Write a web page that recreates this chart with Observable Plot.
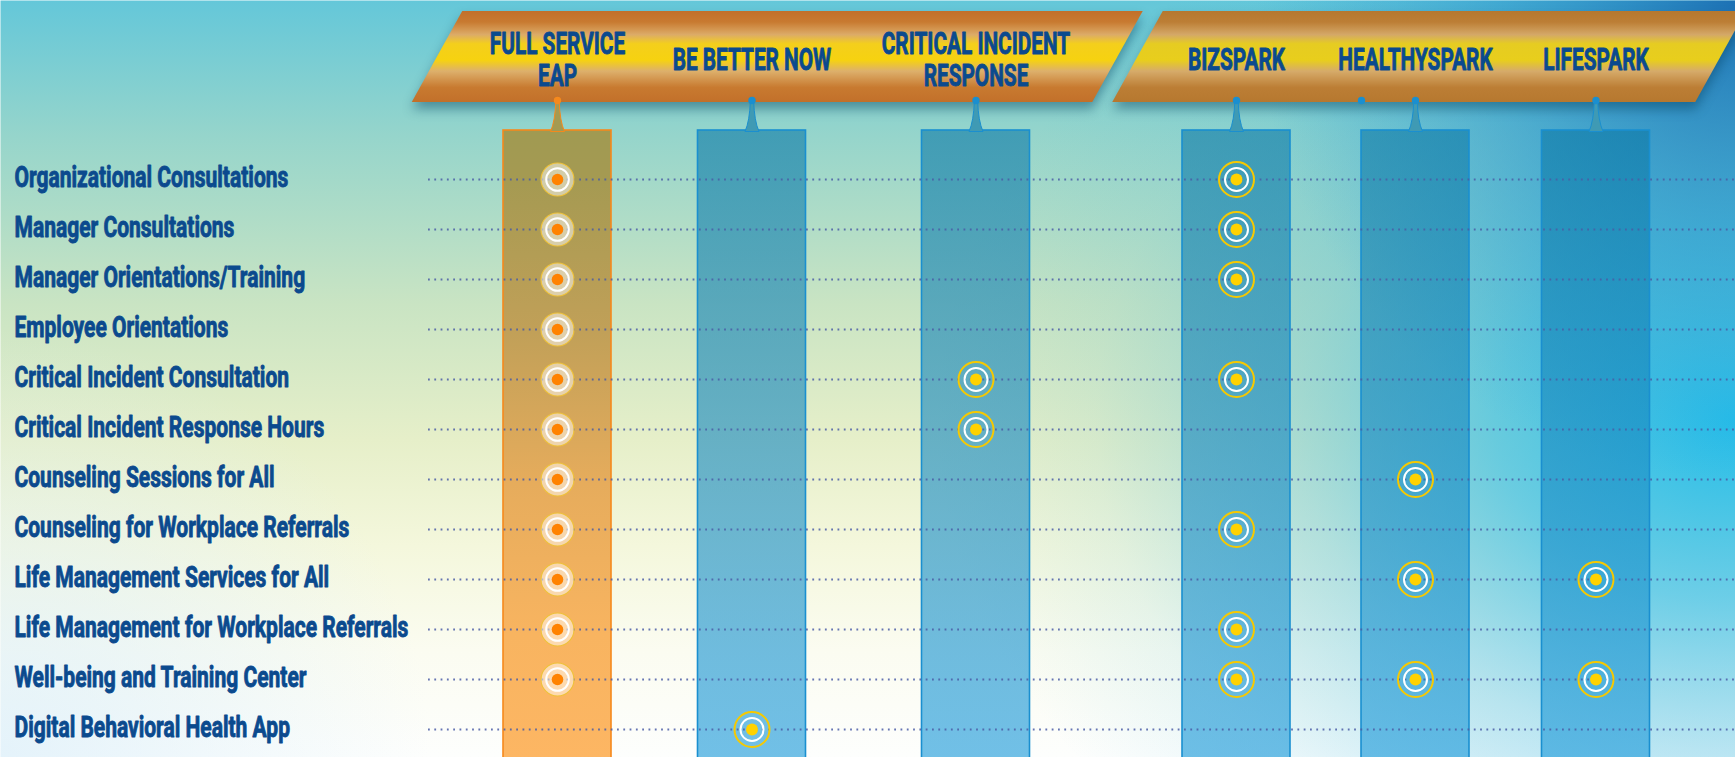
<!DOCTYPE html>
<html>
<head>
<meta charset="utf-8">
<script src="https://cdn.jsdelivr.net/npm/d3@7"></script>
<script src="https://cdn.jsdelivr.net/npm/@observablehq/plot@0.6"></script>
<style>
  html, body { margin: 0; padding: 0; background: #ffffff; overflow: hidden; }
  #chart svg { display: block; }
</style>
</head>
<body>
<div id="chart"></div>
<script>
// ---------------- DATA ----------------
const programs = ["FULL SERVICE\nEAP", "BE BETTER NOW", "CRITICAL INCIDENT\nRESPONSE", "BIZSPARK", "HEALTHYSPARK", "LIFESPARK"];

const services = [
  "Organizational Consultations",
  "Manager Consultations",
  "Manager Orientations/Training",
  "Employee Orientations",
  "Critical Incident Consultation",
  "Critical Incident Response Hours",
  "Counseling Sessions for All",
  "Counseling for Workplace Referrals",
  "Life Management Services for All",
  "Life Management for Workplace Referrals",
  "Well-being and Training Center",
  "Digital Behavioral Health App"
];

const fullServiceEAP = [
  "Organizational Consultations", "Manager Consultations", "Manager Orientations/Training",
  "Employee Orientations", "Critical Incident Consultation", "Critical Incident Response Hours",
  "Counseling Sessions for All", "Counseling for Workplace Referrals", "Life Management Services for All",
  "Life Management for Workplace Referrals", "Well-being and Training Center"
];
const beBetterNow = ["Digital Behavioral Health App"];
const criticalIncidentResponse = ["Critical Incident Consultation", "Critical Incident Response Hours"];
const bizSpark = [
  "Organizational Consultations", "Manager Consultations", "Manager Orientations/Training",
  "Critical Incident Consultation", "Counseling for Workplace Referrals",
  "Life Management for Workplace Referrals", "Well-being and Training Center"
];
const healthySpark = ["Counseling Sessions for All", "Life Management Services for All", "Well-being and Training Center"];
const lifeSpark = ["Life Management Services for All", "Well-being and Training Center"];

const offerings = [fullServiceEAP, beBetterNow, criticalIncidentResponse, bizSpark, healthySpark, lifeSpark];
const bannerLeft = ["FULL SERVICE\nEAP", "BE BETTER NOW", "CRITICAL INCIDENT\nRESPONSE"];
const bannerRight = ["BIZSPARK", "HEALTHYSPARK", "LIFESPARK"];
const extraPins = ["HEALTHYSPARK"];

// ---------------- LAYOUT ----------------
const W = 1735, H = 757;
const colCenters = [557, 751.5, 975.5, 1236, 1415, 1595.5];
const rowRange = [177, 730];
const half = 54;
const font = "Roboto, 'Noto Sans', 'DejaVu Sans', sans-serif";
const textBlue = "#0b4a8e";

const pIndex = (p) => programs.indexOf(p);
const idx = programs.map((p, i) => i);
const cells = programs.flatMap((p, i) => offerings[i].map((s) => ({program: i, service: s})));
const fsCells = cells.filter((d) => d.program === 0);
const sparkCells = cells.filter((d) => d.program !== 0);
const groups = [
  {first: pIndex(bannerLeft[0]), last: pIndex(bannerLeft[bannerLeft.length - 1])},
  {first: pIndex(bannerRight[0]), last: pIndex(bannerRight[bannerRight.length - 1])}
];

const spike = {
  draw(ctx) {
    ctx.moveTo(-1.6, 0);
    ctx.quadraticCurveTo(-2.4, 21, -7, 31);
    ctx.lineTo(7, 31);
    ctx.quadraticCurveTo(2.4, 21, 1.6, 0);
    ctx.closePath();
  }
};

const plot = Plot.plot({
  width: W,
  height: H,
  margin: 0,
  style: {background: "transparent", overflow: "hidden", fontFamily: font},
  x: {type: "linear", domain: idx, range: colCenters, axis: null},
  y: {type: "point", domain: services, range: rowRange, padding: 0, axis: null},
  color: {type: "identity"},
  marks: [
    // background layers
    Plot.frame({fill: "url(#bgBase)", stroke: "none"}),
    Plot.frame({fill: "url(#bgBottomLeft)", stroke: "none"}),
    Plot.frame({fill: "url(#bgBlue)", stroke: "none"}),
    Plot.frame({fill: "url(#bgTopRight)", stroke: "none"}),

    // banners
    Plot.rect([groups[0]], {
      x1: "first", x2: "last", insetLeft: -120, insetRight: -142,
      insetTop: 11, insetBottom: H - 102, fill: "url(#bannerL)", ariaDescription: "banner"
    }),
    Plot.rect([groups[1]], {
      x1: "first", x2: "last", insetLeft: -98.5, insetRight: -125,
      insetTop: 11, insetBottom: H - 102, fill: "url(#bannerR)", ariaDescription: "banner"
    }),
    Plot.text(programs, {
      x: (d, i) => i, text: (d) => d, frameAnchor: "top", dy: 59,
      lineAnchor: "middle", lineHeight: 1, fontSize: 32, fontWeight: 700,
      fill: textBlue, stroke: textBlue, strokeWidth: 0.9, ariaDescription: "heads"
    }),

    // columns
    Plot.rect(idx, {
      x1: (d) => d, x2: (d) => d, insetLeft: -half, insetRight: -half,
      insetTop: 130, insetBottom: -4,
      fill: (d) => d === 0 ? "url(#colFS)" : "url(#colBlue)",
      stroke: (d) => d === 0 ? "#f5891c" : "#1a8fd0", strokeWidth: 1.6
    }),

    // pins
    Plot.dot(idx, {
      x: (d) => d, frameAnchor: "top", dy: 100, symbol: spike, r: 5,
      fill: (d) => d === 0 ? "#a49a52" : "#3f9ab4",
      stroke: (d) => d === 0 ? "#f5891c" : "#1a8fd0", strokeWidth: 1
    }),
    Plot.dot(idx, {
      x: (d) => d, frameAnchor: "top", dy: 100, r: 3.7,
      fill: (d) => d === 0 ? "#f5891c" : "#1a8fd0"
    }),
    Plot.dot(extraPins, {
      x: (d) => pIndex(d), frameAnchor: "top", dy: 100, dx: -half, r: 3.7, fill: "#1a8fd0"
    }),

    // dotted row lines
    Plot.ruleY(services, {
      y: (d) => d, insetLeft: 428, stroke: "#4a5ca6", strokeWidth: 1.8,
      strokeDasharray: "1.8,4.5", strokeOpacity: 0.85
    }),

    // full-service markers
    Plot.dot(fsCells, {x: "program", y: "service", r: 16.5, fill: "#ffffff", fillOpacity: 0.5, stroke: "#efc238", strokeWidth: 1.1}),
    Plot.dot(fsCells, {x: "program", y: "service", r: 11.3, fill: "none", stroke: "#ffffff", strokeWidth: 2}),
    Plot.dot(fsCells, {x: "program", y: "service", r: 5.8, fill: "#ff8200", stroke: "none"}),

    // other markers
    Plot.dot(sparkCells, {x: "program", y: "service", r: 17.5, fill: "none", stroke: "#f7c900", strokeWidth: 2}),
    Plot.dot(sparkCells, {x: "program", y: "service", r: 11.5, fill: "none", stroke: "#ffffff", strokeWidth: 2}),
    Plot.dot(sparkCells, {x: "program", y: "service", r: 6, fill: "#ffd200", stroke: "none"}),

    // row labels
    Plot.text(services, {
      y: (d) => d, text: (d) => d, frameAnchor: "left", dx: 14, dy: -2,
      textAnchor: "start", lineAnchor: "middle", fontSize: 29, fontWeight: 700,
      fill: textBlue, stroke: textBlue, strokeWidth: 0.9, ariaDescription: "labels"
    })
  ]
});

// gradients
const defs = document.createElementNS("http://www.w3.org/2000/svg", "defs");
defs.innerHTML = `
  <linearGradient id="bgBase" x1="0" y1="0" x2="0" y2="1">
    <stop offset="0" stop-color="#64c7d9"/>
    <stop offset="0.18" stop-color="#96d5cb"/>
    <stop offset="0.40" stop-color="#c9e4c3"/>
    <stop offset="0.58" stop-color="#e6efc9"/>
    <stop offset="0.72" stop-color="#f4f7dc"/>
    <stop offset="0.86" stop-color="#fbfcf1"/>
    <stop offset="1" stop-color="#fdfefd"/>
  </linearGradient>
  <radialGradient id="bgBottomLeft" gradientUnits="userSpaceOnUse" cx="0" cy="757" r="430">
    <stop offset="0" stop-color="#dceffa" stop-opacity="0.75"/>
    <stop offset="1" stop-color="#dceffa" stop-opacity="0"/>
  </radialGradient>
  <radialGradient id="bgBlue" gradientUnits="userSpaceOnUse" cx="1735" cy="420" r="800"
      gradientTransform="translate(1735,420) scale(1,0.75) translate(-1735,-420)">
    <stop offset="0" stop-color="#20bdeb" stop-opacity="0.97"/>
    <stop offset="0.3" stop-color="#26b8e8" stop-opacity="0.66"/>
    <stop offset="0.55" stop-color="#38b6e0" stop-opacity="0.35"/>
    <stop offset="0.8" stop-color="#3cb6e0" stop-opacity="0.1"/>
    <stop offset="1" stop-color="#3cb6e0" stop-opacity="0"/>
  </radialGradient>
  <radialGradient id="bgTopRight" gradientUnits="userSpaceOnUse" cx="1735" cy="0" r="480">
    <stop offset="0" stop-color="#1668b0" stop-opacity="0.9"/>
    <stop offset="0.5" stop-color="#1e88c8" stop-opacity="0.45"/>
    <stop offset="1" stop-color="#2a9ad4" stop-opacity="0"/>
  </radialGradient>
  <linearGradient id="bannerL" x1="0" y1="0" x2="0" y2="1">
    <stop offset="0" stop-color="#c2702a"/>
    <stop offset="0.12" stop-color="#c87a30"/>
    <stop offset="0.26" stop-color="#dcab68"/>
    <stop offset="0.36" stop-color="#f4cf1c"/>
    <stop offset="0.54" stop-color="#f6d210"/>
    <stop offset="0.66" stop-color="#ddb06c"/>
    <stop offset="0.84" stop-color="#c87a30"/>
    <stop offset="1" stop-color="#c2702a"/>
  </linearGradient>
  <linearGradient id="bannerR" x1="0" y1="0" x2="0" y2="1">
    <stop offset="0" stop-color="#b6782f"/>
    <stop offset="0.12" stop-color="#bc7e35"/>
    <stop offset="0.26" stop-color="#d4a868"/>
    <stop offset="0.36" stop-color="#e6cc22"/>
    <stop offset="0.54" stop-color="#e8ce1c"/>
    <stop offset="0.66" stop-color="#d6ab6a"/>
    <stop offset="0.84" stop-color="#bc7e35"/>
    <stop offset="1" stop-color="#b6782f"/>
  </linearGradient>
  <linearGradient id="colFS" x1="0" y1="0" x2="0" y2="1">
    <stop offset="0" stop-color="#a09a52"/>
    <stop offset="0.08" stop-color="#a59a52"/>
    <stop offset="0.32" stop-color="#c1a058"/>
    <stop offset="0.56" stop-color="#e6ac5c"/>
    <stop offset="0.8" stop-color="#f8b460"/>
    <stop offset="1" stop-color="#fdb663"/>
  </linearGradient>
  <linearGradient id="colBlue" x1="0" y1="0" x2="0" y2="1">
    <stop offset="0" stop-color="#0a78a6" stop-opacity="0.6"/>
    <stop offset="0.5" stop-color="#188ac2" stop-opacity="0.62"/>
    <stop offset="1" stop-color="#28a0dc" stop-opacity="0.66"/>
  </linearGradient>
`;
plot.insertBefore(defs, plot.firstChild);
document.getElementById("chart").appendChild(plot);

const sel = d3.select(plot);
sel.selectAll('g[aria-description="banner"]').style("filter", "drop-shadow(0px 7px 6px rgba(0,60,90,0.45))");
sel.selectAll('g[aria-description="banner"] rect')
  .style("transform-box", "fill-box")
  .style("transform-origin", "center")
  .style("transform", "skewX(-29deg)");
sel.selectAll('g[aria-description="heads"] text')
  .attr("transform", function () { return (this.getAttribute("transform") || "") + " scale(0.65,1)"; });
sel.selectAll('g[aria-description="labels"] text')
  .attr("transform", function () { return (this.getAttribute("transform") || "") + " scale(0.725,1)"; });
</script>
</body>
</html>
